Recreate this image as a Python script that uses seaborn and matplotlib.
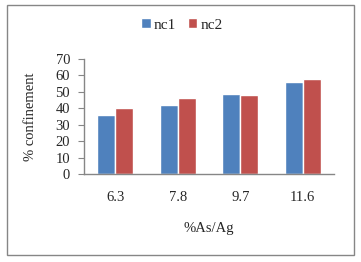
import pandas as pd
import matplotlib
matplotlib.use('Agg')
import matplotlib.pyplot as plt
import seaborn as sns
from matplotlib.patches import Rectangle

# data
ratios = ['6.3', '7.8', '9.7', '11.6']
nc1 = [36.0, 42.1, 48.8, 56.0]
nc2 = [40.2, 46.4, 48.2, 57.9]

df = pd.DataFrame({
    'ratio': ratios * 2,
    'value': nc1 + nc2,
    'series': ['nc1'] * 4 + ['nc2'] * 4,
})

sns.set_style('white')
plt.rcParams['font.family'] = ['Liberation Serif', 'DejaVu Serif']

fig = plt.figure(figsize=(3.61, 2.62), dpi=100)
ax = fig.add_axes([0.2327, 0.3359, 0.6925, 0.4389])

sns.barplot(data=df, x='ratio', y='value', hue='series',
            palette=['#4F81BD', '#C0504D'], width=0.58, saturation=1,
            ax=ax, legend=True)

ax.set_ylim(0, 70)
ax.set_yticks(range(0, 71, 10))
ax.set_xlim(-0.5, 3.5)
ax.set_xticks([i - 0.5 for i in range(5)], minor=True)
ax.tick_params(axis='x', which='major', length=0, pad=12, labelsize=10.5)
ax.tick_params(axis='x', which='minor', length=4, color='#868686', direction='out')
ax.tick_params(axis='y', length=4, color='#868686', direction='out', labelsize=10.5, pad=6)
ax.tick_params(axis='both', bottom=True, left=True)

for s in ['top', 'right']:
    ax.spines[s].set_visible(False)
for s in ['left', 'bottom']:
    ax.spines[s].set_color('#868686')
    ax.spines[s].set_linewidth(1)

ax.set_xlabel('%As/Ag', fontsize=10.5, labelpad=13)
ax.set_ylabel('% confinement', fontsize=10.5, labelpad=13)

ax.legend(loc='center', bbox_to_anchor=(182 / 361, 1 - 25 / 262),
          bbox_transform=fig.transFigure, ncol=2, frameon=False,
          fontsize=11, handlelength=0.6, handleheight=0.6,
          columnspacing=0.8, handletextpad=0.2)

# outer chart border
fig.patches.append(Rectangle((7 / 361, 1 - 255 / 262), 347 / 361, 250 / 262,
                             transform=fig.transFigure, fill=False,
                             edgecolor='#868686', linewidth=1))

fig.savefig('out.png', dpi=100)
